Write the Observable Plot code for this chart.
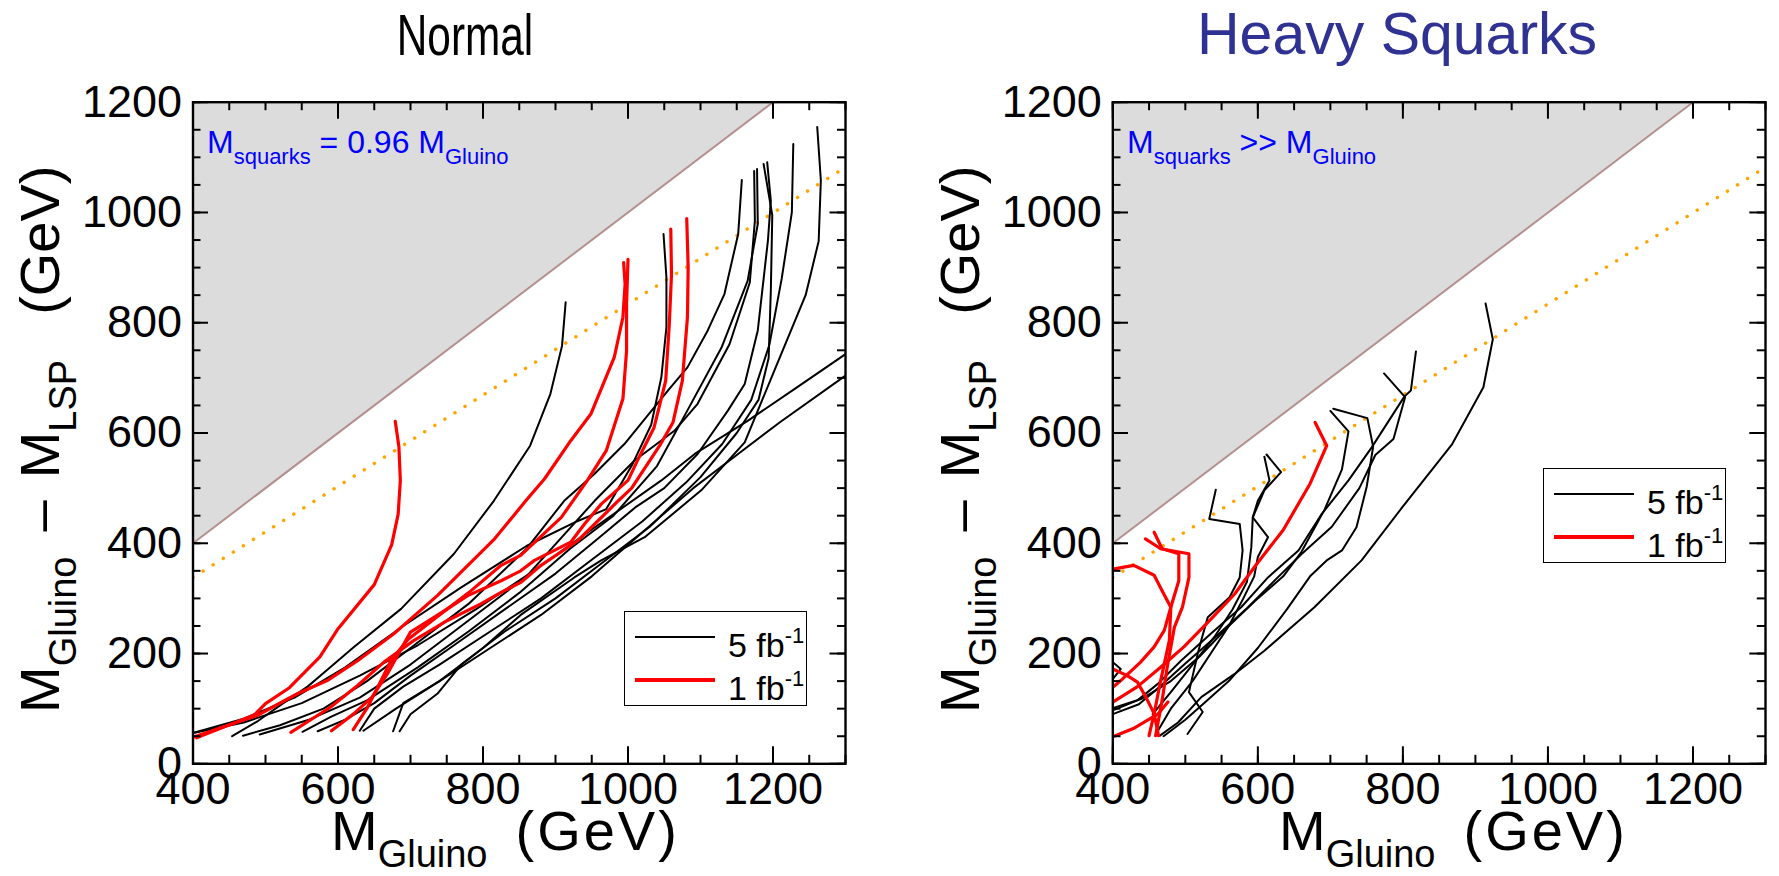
<!DOCTYPE html>
<html><head><meta charset="utf-8">
<script src="https://cdn.jsdelivr.net/npm/d3@7"></script>
<script src="https://cdn.jsdelivr.net/npm/@observablehq/plot@0.6"></script>
<style>
body{margin:0;background:#fff;font-family:"Liberation Sans",Arial,Helvetica,sans-serif;}
#wrap{position:relative;width:1779px;height:876px;overflow:hidden;background:#fff;}
.abs{position:absolute;white-space:nowrap;line-height:1;}
.panel{position:absolute;top:0;}
.leg{position:absolute;border:1.5px solid #000;box-sizing:border-box;width:183px;height:95px;background:#fff;}
.leg .ln{position:absolute;left:10px;width:80px;}
.leg .tx{position:absolute;left:103px;font-size:34px;line-height:1;}
.leg sup{font-size:22px;vertical-align:14px;}
sub{vertical-align:baseline;position:relative;}
</style></head><body><div id="wrap"></div>
<script>
// ---------- axis / tick values ----------
const xDomain = [400, 1300];
const yDomain = [0, 1200];
const xTickLabels = [400, 600, 800, 1000, 1200];
const yTickLabels = [0, 200, 400, 600, 800, 1000, 1200];
const xMajorTicks = [400, 600, 800, 1000, 1200];
const xMinorTicks = [400, 450, 500, 550, 600, 650, 700, 750, 800, 850, 900, 950, 1000, 1050, 1100, 1150, 1200, 1250, 1300];
const yMajorTicks = [0, 200, 400, 600, 800, 1000, 1200];
const yMinorTicks = [0, 50, 100, 150, 200, 250, 300, 350, 400, 450, 500, 550, 600, 650, 700, 750, 800, 850, 900, 950, 1000, 1050, 1100, 1150, 1200];

// kinematic boundary (M_LSP = 0) and orange dotted reference line
const boundaryX = [400, 1200];
const boundaryLow = [400, 1200];
const boundaryHigh = [1200, 1200];
const dottedX = [400, 1300];
const dottedY = [338, 1082];

// ---------- Normal: 5 fb^-1 (black) ----------
const n5a = [[454,50],[490,78],[530,115],[558,140],[576,160],[622,212],[687,281],[760,381],[815,477],[865,577],[893,671],[909,758],[914,837]];
const n5b = [[400,56],[470,82],[540,120],[610,175],[690,250],[770,320],[860,395],[930,440],[970,462],[1006,543],[1032,615],[1046,701],[1053,792],[1053,882],[1049,961]];
const n5c = [[469,51],[520,70],[580,100],[640,150],[700,210],[780,290],[860,390],[912,477],[954,526],[995,580],[1055,677],[1082,719],[1110,786],[1133,852],[1152,961],[1157,1059]];
const n5d = [[492,53],[560,80],[630,120],[700,180],[780,260],[860,340],[954,477],[1009,550],[1064,604],[1096,653],[1140,761],[1168,873],[1175,985],[1174,1075]];
const n5e = [[551,58],[590,85],[640,115],[710,175],[780,240],[850,310],[920,390],[980,450],[1040,540],[1082,641],[1129,755],[1165,876],[1179,979],[1178,1079]];
const n5f = [[685,59],[700,90],[737,127],[770,180],[830,240],[900,300],[960,360],[1030,430],[1100,520],[1150,600],[1180,660],[1194,736],[1197,858],[1199,995],[1187,1088]];
const n5g = [[572,59],[610,80],[650,110],[700,160],[760,215],[830,280],[900,345],[960,410],[1010,465],[1050,500],[1096,562],[1138,641],[1161,689],[1179,786],[1193,949],[1197,1021],[1192,1091]];
const n5h = [[630,60],[650,100],[690,140],[740,180],[810,240],[880,300],[950,370],[1020,440],[1080,510],[1130,580],[1170,660],[1195,760],[1212,880],[1226,1000],[1228,1124]];
const n5i = [[676,59],[690,110],[740,150],[800,210],[852,270],[926,338],[963,369],[1023,411],[1101,496],[1161,583],[1209,736],[1245,850],[1263,948],[1266,1058],[1261,1155]];
const n5j = [[400,56],[470,75],[550,110],[630,160],[710,215],[790,280],[870,350],[950,425],[1046,514],[1092,562],[1165,622],[1230,680],[1300,743]];
const n5k = [[635,60],[680,100],[740,150],[810,210],[880,270],[950,340],[1020,420],[1090,500],[1150,560],[1210,620],[1300,704]];

// ---------- Normal: 1 fb^-1 (red) ----------
const n1a = [[405,47],[485,89],[500,109],[533,138],[575,194],[599,243],[650,325],[674,397],[683,453],[686,514],[684,575],[679,621]];
const n1b = [[400,48],[489,88],[544,127],[585,151],[627,187],[677,236],[737,305],[816,408],[859,477],[885,517],[921,586],[949,635],[981,737],[993,810],[996,870],[994,909]];
const n1c = [[621,62],[641,103],[657,145],[673,187],[696,225],[735,265],[780,310],[825,360],[852,378],[908,447],[944,514],[970,568],[993,662],[998,749],[998,834],[1000,915]];
const n1d = [[591,60],[622,91],[647,121],[668,163],[700,239],[733,266],[779,305],[825,332],[852,350],[871,369],[921,402],[940,435],[963,471],[1000,514],[1013,550],[1036,610],[1052,695],[1057,798],[1060,888],[1059,970]];
const n1e = [[535,57],[590,103],[627,142],[663,184],[705,224],[751,260],[797,290],[825,311],[852,329],[880,360],[931,405],[985,475],[1005,500],[1025,540],[1045,580],[1062,619],[1075,695],[1082,810],[1083,900],[1081,989]];

// ---------- Heavy Squarks: 5 fb^-1 (black) ----------
const h5a = [[465,51],[490,75],[522,121],[568,163],[609,205],[678,284],[743,369],[799,465],[868,580],[911,683],[924,770],[914,835]];
const h5b = [[400,97],[434,115],[462,145],[494,187],[535,236],[577,284],[614,338],[656,387],[688,453],[725,514],[757,574],[802,666],[811,677],[818,748]];
const h5c = [[400,90],[436,108],[465,140],[500,182],[540,228],[585,282],[625,335],[660,380],[702,430],[740,500],[762,560],[787,589],[803,665],[774,708]];
const h5d = [[470,50],[500,80],[530,115],[560,150],[600,210],[640,280],[672,340],[696,370],[716,387],[736,429],[750,502],[759,575],[751,627],[704,644]];
const h5e = [[400,101],[440,118],[480,150],[520,195],[560,250],[600,300],[635,340],[660,384],[692,461],[716,534],[725,603],[700,640]];
const h5f = [[503,54],[524,94],[505,130],[517,199],[522,224],[531,266],[561,302],[575,338],[579,387],[575,435],[533,444],[542,497]];
const h5g = [[455,90],[480,130],[510,180],[540,230],[565,280],[585,330],[591,393],[593,447],[600,477],[616,514],[609,557]];
const h5h = [[460,55],[480,100],[510,150],[535,200],[560,250],[580,300],[595,340],[600,375],[614,411],[593,447],[609,496],[632,529],[612,561]];
const h5i = [[395,190],[411,172],[395,145]];

// ---------- Heavy Squarks: 1 fb^-1 (red) ----------
const h1a = [[400,112],[434,140],[466,175],[498,212],[535,262],[568,308],[600,365],[635,424],[672,508],[695,577],[679,619]];
const h1b = [[400,353],[429,360],[457,342],[468,314],[480,284],[471,242],[457,212],[438,184],[411,151],[400,139]];
const h1c = [[445,408],[466,390],[505,381],[505,338],[496,284],[485,248],[475,175],[468,115],[459,51]];
const h1d = [[457,420],[468,390],[491,381],[491,332],[480,284],[478,224],[466,151],[457,91],[450,51]];
const h1e = [[400,172],[420,160],[434,148],[446,120],[457,91],[463,51]];
const h1f = [[400,49],[430,65],[462,90],[476,112]];

// ---------- build tables ----------
function table(curves) {
  return curves.flatMap((c, id) => c.map(([x, y]) => ({id, x, y})));
}
const FW = 652.5, FH = 661.6; // frame size in px

function panel(black, red, ml, mr, width) {
  const tri = boundaryX.map((x, i) => ({x, y1: boundaryLow[i], y2: boundaryHigh[i]}));
  const diag = boundaryX.map((x, i) => ({x, y: boundaryLow[i]}));
  const dots = dottedX.map((x, i) => ({x, y: dottedY[i]}));
  const tk = {stroke: "black", strokeWidth: 2};
  return Plot.plot({
    width, height: 876,
    marginLeft: ml, marginRight: mr, marginTop: 101.7, marginBottom: 112.7,
    x: {domain: xDomain},
    y: {domain: yDomain},
    style: {fontFamily: '"Liberation Sans", Arial, sans-serif', background: "transparent", overflow: "visible", color: "black"},
    marks: [
      Plot.areaY(tri, {x: "x", y1: "y1", y2: "y2", fill: "#dcdcdc"}),
      Plot.line(diag, {x: "x", y: "y", stroke: "#b38f8f", strokeWidth: 2}),
      Plot.line(dots, {x: "x", y: "y", stroke: "#ffa500", strokeWidth: 3.4, strokeDasharray: "0.1,11.8", strokeLinecap: "round", clip: true}),
      Plot.line(table(black), {x: "x", y: "y", z: "id", stroke: "black", strokeWidth: 2, clip: true}),
      Plot.line(table(red), {x: "x", y: "y", z: "id", stroke: "#ff0000", strokeWidth: 3.2, clip: true}),
      // inward ticks on all four sides
      Plot.tickX(xMinorTicks, {x: d => d, insetTop: FH - 8.5, ...tk}),
      Plot.tickX(xMajorTicks, {x: d => d, insetTop: FH - 17, ...tk}),
      Plot.tickX(xMinorTicks, {x: d => d, insetBottom: FH - 8.5, ...tk}),
      Plot.tickX(xMajorTicks, {x: d => d, insetBottom: FH - 17, ...tk}),
      Plot.tickY(yMinorTicks, {y: d => d, insetRight: FW - 8, ...tk}),
      Plot.tickY(yMajorTicks, {y: d => d, insetRight: FW - 15.5, ...tk}),
      Plot.tickY(yMinorTicks, {y: d => d, insetLeft: FW - 8, ...tk}),
      Plot.tickY(yMajorTicks, {y: d => d, insetLeft: FW - 15.5, ...tk}),
      Plot.frame({stroke: "black", strokeWidth: 2.4}),
      Plot.axisX({ticks: xTickLabels, tickSize: 0, tickPadding: 8, fontSize: 45, tickFormat: d => String(d), label: null}),
      Plot.axisY({ticks: yTickLabels, tickSize: 0, tickPadding: 11, fontSize: 45, tickFormat: d => String(d), label: null})
    ]
  });
}

const wrap = document.getElementById("wrap");
const left = panel([n5a,n5b,n5c,n5d,n5e,n5f,n5g,n5h,n5i,n5j,n5k], [n1a,n1b,n1c,n1d,n1e], 192.5, 45, 890);
left.classList.add("panel"); left.style.left = "0px";
wrap.appendChild(left);
const right = panel([h5a,h5b,h5c,h5d,h5e,h5f,h5g,h5h,h5i], [h1a,h1b,h1c,h1d,h1e,h1f], 222.3, 14, 889);
right.classList.add("panel"); right.style.left = "890px";
wrap.appendChild(right);

// ---------- text overlays ----------
function addDiv(html, css) {
  const d = document.createElement("div");
  d.className = "abs";
  d.innerHTML = html;
  Object.assign(d.style, css);
  wrap.appendChild(d);
  return d;
}
const subCss = 'font-size:38px;top:17px;';
// titles
addDiv("Normal", {left: "465px", top: (55 - 0.8465*58) + "px", fontSize: "58px", transform: "translateX(-50%) scaleX(0.73)", transformOrigin: "50% 0", color: "#000"});
addDiv("Heavy Squarks", {left: "1197px", top: (55 - 0.8465*59) + "px", fontSize: "59px", color: "#2f3293"});

// x titles
const xt = `M<sub style="${subCss}">Gluino</sub><span style="margin-left:28px;letter-spacing:3px">(GeV)</span>`;
addDiv(xt, {left: "331px", top: (850 - 0.8465*56) + "px", fontSize: "56px"});
addDiv(xt, {left: "1279px", top: (850 - 0.8465*56) + "px", fontSize: "56px"});
// y titles (rotated)
const yt = `M<sub style="${subCss}">Gluino</sub><span style="margin-left:25px">–</span><span style="margin-left:22px">M</span><sub style="${subCss}">LSP</sub><span style="margin-left:45px">(GeV)</span>`;
addDiv(yt, {left: "12px", top: "713px", fontSize: "56px", transform: "rotate(-90deg)", transformOrigin: "0 0"});
addDiv(yt, {left: "932px", top: "713px", fontSize: "56px", transform: "rotate(-90deg)", transformOrigin: "0 0"});

// annotations
const subA = 'font-size:22px;top:11px;';
addDiv(`M<sub style="${subA}">squarks</sub> = 0.96 M<sub style="${subA}">Gluino</sub>`, {left: "207px", top: (153 - 0.8465*32) + "px", fontSize: "32px", color: "#0000ff"});
addDiv(`M<sub style="${subA}">squarks</sub> &gt;&gt; M<sub style="${subA}">Gluino</sub>`, {left: "1127px", top: (153 - 0.8465*32) + "px", fontSize: "32px", color: "#0000ff"});

// legends
function legend(x, y) {
  const d = document.createElement("div");
  d.className = "leg";
  d.style.left = x + "px"; d.style.top = y + "px";
  d.innerHTML = `<div class="ln" style="top:24px;height:2px;background:#000"></div>
    <div class="tx" style="top:${42-0.8465*34}px">5 fb<sup>-1</sup></div>
    <div class="ln" style="top:66px;height:3.5px;background:#ff0000"></div>
    <div class="tx" style="top:${85-0.8465*34}px">1 fb<sup>-1</sup></div>`;
  wrap.appendChild(d);
}
legend(624, 611);
legend(1543, 468);
</script>
</body></html>
